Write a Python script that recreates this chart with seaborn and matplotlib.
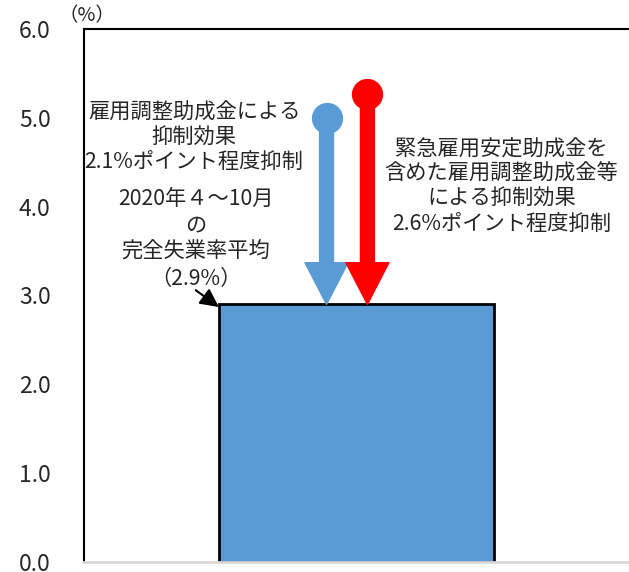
import numpy as np
import matplotlib
matplotlib.use("Agg")
import matplotlib.pyplot as plt
import seaborn as sns

# data
categories = ["2020年4~10月"]
rates = [2.9]                       # 完全失業率平均 (%)
arrow_tops = [5.0, 5.27]            # circle (start) of each arrow
arrow_x = [-0.11, 0.04]             # horizontal placement of arrows
arrow_colors = ["#5B9BD5", "#FF0000"]
yticks = [0, 1, 2, 3, 4, 5, 6]
ytick_labels = ["0.0", "1.0", "2.0", "3.0", "4.0", "5.0", "6.0"]

left_note = "雇用調整助成金による\n抑制効果\n2.1%ポイント程度抑制"
avg_note = "2020年４～10月\nの\n完全失業率平均\n（2.9%）"
right_note = "緊急雇用安定助成金を\n含めた雇用調整助成金等\nによる抑制効果\n2.6%ポイント程度抑制"

sns.set_theme(style="white")
plt.rcParams['font.family'] = ['Noto Sans CJK JP', 'DejaVu Sans']

fig = plt.figure(figsize=(6.29, 5.72), dpi=100)
ax = fig.add_axes([84 / 629, 10 / 572, 545 / 629, 533 / 572])

sns.barplot(x=categories, y=rates, ax=ax, color="#5B9BD5", saturation=1,
            edgecolor="black", linewidth=2, width=1.01)

ax.set_xlim(-1, 1)
ax.set_ylim(0, 6)
ax.set_yticks(yticks)
ax.set_yticklabels(ytick_labels, fontsize=16.5)
ax.set_xticks([])
ax.set_xlabel("")
ax.set_ylabel("")
ax.tick_params(axis="y", length=0, pad=24)

for s in ["left", "top"]:
    ax.spines[s].set_color("black")
    ax.spines[s].set_linewidth(1.5)
ax.spines["right"].set_visible(False)
ax.spines["bottom"].set_color("#D9D9D9")
ax.spines["bottom"].set_linewidth(2)

# effect arrows: circle at the top, arrow down to the bar
for x, top, c in zip(arrow_x, arrow_tops, arrow_colors):
    ax.annotate("", xy=(x, rates[0]), xytext=(x, top),
                arrowprops=dict(arrowstyle="simple,head_length=30,head_width=31,tail_width=10",
                                mutation_scale=1, color=c, shrinkA=0, shrinkB=0))
    ax.plot([x], [top], marker="o", markersize=21.5, color=c, zorder=5)

ax.text(-0.596, 4.78, left_note, ha="center", va="center", fontsize=15.3, linespacing=1.18)
ax.text(-0.589, 3.64, avg_note, ha="center", va="center", fontsize=15.3, linespacing=1.28)
ax.text(0.532, 4.227, right_note, ha="center", va="center", fontsize=15.3, linespacing=1.16)

# small pointer from the average label to the bar corner
ax.annotate("", xy=(-0.505, 2.87), xytext=(-0.59, 3.06),
            arrowprops=dict(arrowstyle="-|>,head_length=0.7,head_width=0.35", color="black",
                            lw=1.5, mutation_scale=16, shrinkA=0, shrinkB=0))

fig.text(87 / 629, 1 - 16 / 572, "（%）", ha="center", va="center", fontsize=14)

fig.savefig("out.png", dpi=100)
